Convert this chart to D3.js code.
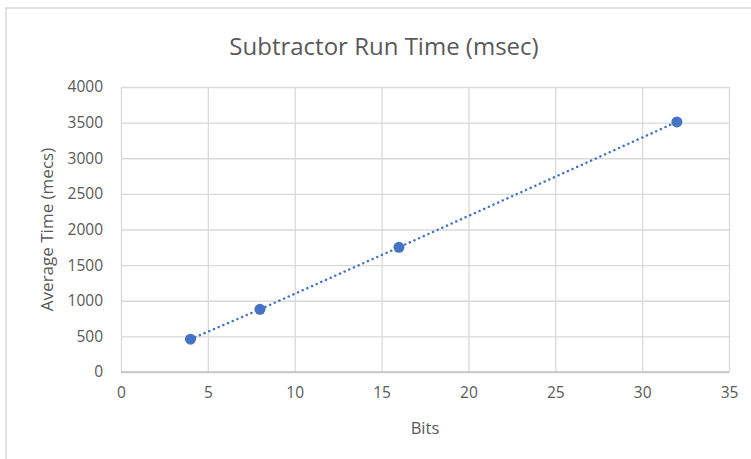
<!DOCTYPE html>
<html>
<head>
<meta charset="utf-8">
<title>Subtractor Run Time</title>
<script src="https://d3js.org/d3.v7.min.js"></script>
<style>
body { margin: 0; background: #fff; }
text { font-family: "Open Sans", "Liberation Sans", sans-serif; fill: #595959; }
.grid line { stroke: #d9d9d9; stroke-width: 1.3; }
.grid path { display: none; }
.axis path, .axis line { display: none; }
.line { fill: none; stroke: #4472c4; stroke-width: 2.5; stroke-dasharray: 0.1 5; stroke-linecap: round; }
.dot { fill: #4472c4; }
</style>
</head>
<body>
<div id="chart"></div>
<script>
// data
var bits = [4, 8, 16, 32];
var times = [460, 880, 1750, 3510];
var xTicks = [0, 5, 10, 15, 20, 25, 30, 35];
var yTicks = [0, 500, 1000, 1500, 2000, 2500, 3000, 3500, 4000];

var W = 751, H = 459;
var margin = {top: 87, right: 22, bottom: 87, left: 121}
  , width = 729 - margin.left
  , height = 372 - margin.top;

var dataset = bits.map(function(b, i) { return {x: b, y: times[i]}; });

var xScale = d3.scaleLinear().domain([0, 35]).range([0, width]);
var yScale = d3.scaleLinear().domain([0, 4000]).range([height, 0]);

var root = d3.select("#chart").append("svg")
    .attr("width", W)
    .attr("height", H);

// chart frame (only top and left edges visible)
root.append("rect")
    .attr("x", 6).attr("y", 8)
    .attr("width", 800).attr("height", 500)
    .attr("fill", "#fff")
    .attr("stroke", "#d9d9d9")
    .attr("stroke-width", 1.5);

root.append("text")
    .attr("x", 384)
    .attr("y", 55)
    .attr("text-anchor", "middle")
    .style("font-size", "24px")
    .text("Subtractor Run Time (msec)");

var svg = root.append("g")
    .attr("transform", "translate(" + margin.left + "," + margin.top + ")");

// gridlines
svg.append("g")
    .attr("class", "grid")
    .call(d3.axisLeft(yScale).tickValues(yTicks).tickSize(-width).tickFormat(""));
svg.append("g")
    .attr("class", "grid")
    .attr("transform", "translate(0," + height + ")")
    .call(d3.axisBottom(xScale).tickValues(xTicks).tickSize(-height).tickFormat(""));

// bottom axis line
svg.append("line")
    .attr("x1", 0).attr("x2", width)
    .attr("y1", height).attr("y2", height)
    .attr("stroke", "#bfbfbf")
    .attr("stroke-width", 1.5);

var xAxis = svg.append("g")
    .attr("class", "axis")
    .attr("transform", "translate(0," + height + ")")
    .call(d3.axisBottom(xScale).tickValues(xTicks).tickSize(0).tickPadding(15).tickFormat(d3.format("d")));
xAxis.selectAll("text").style("font-size", "15.5px");

var yAxis = svg.append("g")
    .attr("class", "axis")
    .call(d3.axisLeft(yScale).tickValues(yTicks).tickSize(0).tickPadding(18).tickFormat(d3.format("d")));
yAxis.selectAll("text").style("font-size", "15.5px");

var line = d3.line()
    .x(function(d) { return xScale(d.x); })
    .y(function(d) { return yScale(d.y); });

svg.append("path")
    .datum(dataset)
    .attr("class", "line")
    .attr("d", line);

svg.selectAll(".dot")
    .data(dataset)
  .enter().append("circle")
    .attr("class", "dot")
    .attr("cx", function(d) { return xScale(d.x); })
    .attr("cy", function(d) { return yScale(d.y); })
    .attr("r", 5.5);

svg.append("text")
    .attr("x", width / 2)
    .attr("y", height + 62)
    .attr("text-anchor", "middle")
    .style("font-size", "16.5px")
    .text("Bits");

svg.append("text")
    .attr("transform", "rotate(-90)")
    .attr("x", -height / 2)
    .attr("y", -68)
    .attr("text-anchor", "middle")
    .style("font-size", "17px")
    .text("Average Time (mecs)");
</script>
</body>
</html>
